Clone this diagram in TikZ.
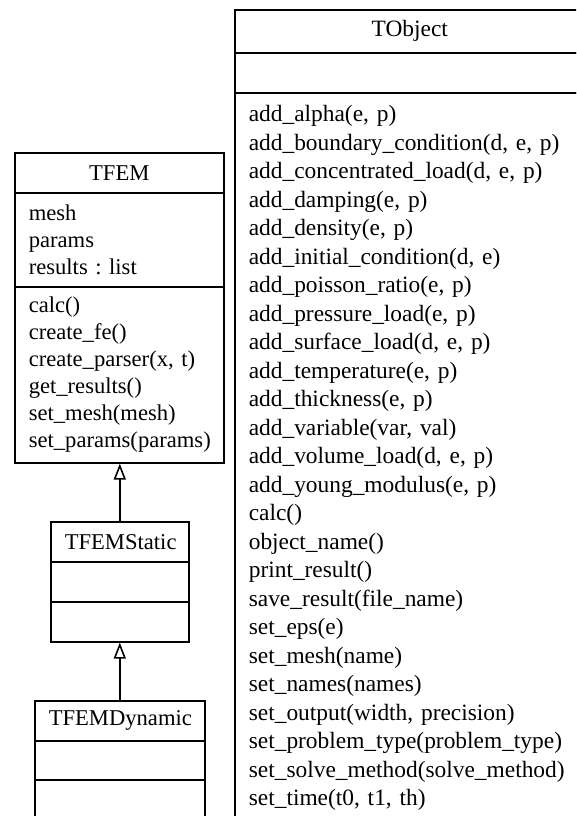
\documentclass[tikz,border=0pt]{standalone}
\usepackage{fontspec}
\setmainfont{Liberation Serif}
\usetikzlibrary{arrows.meta}

\newcommand{\femfont}{\frenchspacing\fontsize{22.6}{27}\selectfont}
\newcommand{\objfont}{\frenchspacing\fontsize{23.4}{28.5}\selectfont}

\begin{document}
\begin{tikzpicture}
[x=1pt,y=-1pt,
  partdecorate/.style={draw,line width=1.6pt,rectangle,anchor=north west,
    inner xsep=14pt,inner ysep=0pt},
  titledecorate/.style={partdecorate,align=center},
  listdecorate/.style={partdecorate,align=left},
  inheritdecorate/.style={-{Triangle[open,length=16pt,width=12pt]},line width=1.6pt}]
\useasboundingbox (0,0) rectangle (576,816);
\clip (0,0) rectangle (576,816);
%% TObject
\node (tobject) at (234,9) [titledecorate,font=\objfont,text width=322pt,minimum height=43pt] {TObject};
\node (tobjectattr) at (234,52) [listdecorate,text width=322pt,minimum height=40pt] {};
\node (tobjectops) at (234,92) [listdecorate,font=\objfont,text width=322pt,minimum height=731pt]
{add\_alpha(e, p)\\ add\_boundary\_condition(d, e, p)\\ add\_concentrated\_load(d, e, p)\\
 add\_damping(e, p)\\ add\_density(e, p)\\ add\_initial\_condition(d, e)\\
 add\_poisson\_ratio(e, p)\\ add\_pressure\_load(e, p)\\ add\_surface\_load(d, e, p)\\
 add\_temperature(e, p)\\ add\_thickness(e, p)\\ add\_variable(var, val)\\
 add\_volume\_load(d, e, p)\\ add\_young\_modulus(e, p)\\ calc()\\ object\_name()\\
 print\_result()\\ save\_result(file\_name)\\ set\_eps(e)\\ set\_mesh(name)\\
 set\_names(names)\\ set\_output(width, precision)\\ set\_problem\_type(problem\_type)\\
 set\_solve\_method(solve\_method)\\ set\_time(t0, t1, th)};
%% TFEM
\node (tfem) at (14,152) [titledecorate,font=\femfont,text width=181pt,minimum height=40pt] {TFEM};
\node (tfemattr) at (14,192) [listdecorate,font=\femfont,text width=181pt,minimum height=94pt]
{mesh\\ params\\ results : list};
\node (tfemops) at (14,286) [listdecorate,font=\femfont,text width=181pt,minimum height=176pt]
{calc()\\ create\_fe()\\ create\_parser(x, t)\\ get\_results()\\ set\_mesh(mesh)\\ set\_params(params)};
%% TFEMStatic
\node (static) at (50,521) [titledecorate,font=\femfont,text width=110pt,minimum height=40pt] {TFEMStatic};
\node (staticattr) at (50,561) [listdecorate,text width=110pt,minimum height=40pt] {};
\node (staticops) at (50,601) [listdecorate,text width=110pt,minimum height=40pt] {};
%% TFEMDynamic
\node (dynamic) at (34,700) [titledecorate,font=\femfont,text width=142pt,minimum height=40pt] {TFEMDynamic};
\node (dynamicattr) at (34,740) [listdecorate,text width=142pt,minimum height=39pt] {};
\node (dynamicops) at (34,779) [listdecorate,text width=142pt,minimum height=60pt] {};
%% inheritance
\draw[inheritdecorate] (static.north) -- (static.north |- tfemops.south);
\draw[inheritdecorate] (dynamic.north) -- (dynamic.north |- staticops.south);
\end{tikzpicture}
\end{document}
